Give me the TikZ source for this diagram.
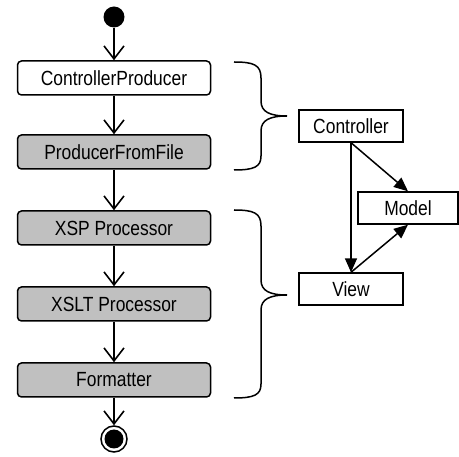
\documentclass[tikz,border=0pt]{standalone}
\usepackage{fontspec}
\setmainfont{Liberation Sans}[FakeStretch=0.85]
\usetikzlibrary{arrows.meta}
\definecolor{stagegray}{RGB}{192,192,192}
\begin{document}
\begin{tikzpicture}[x=1pt,y=-1pt,
  every node/.style={font=\fontsize{20.5}{24}\selectfont, inner sep=0pt},
  stagebox/.style={draw, line width=1.5pt, rounded corners=4pt, minimum width=193pt, minimum height=34pt},
  white stage/.style={stagebox, fill=white},
  gray stage/.style={stagebox, fill=stagegray},
  mvcbox/.style={draw, line width=1.4pt, fill=white, minimum height=32pt},
  flow/.style={line width=1.8pt, -{Straight Barb[length=13pt, width=20pt, line width=1.6pt]}},
  mvc/.style={line width=1.5pt, -{Triangle[length=14pt, width=12pt]}},
  brace/.style={line width=1.5pt}
]
\useasboundingbox (0,0) rectangle (459,457);

% pipeline
\node[circle, fill=black, minimum size=21pt] (start) at (114,17) {};
\node[white stage] (cp)   at (114,78)  {ControllerProducer};
\node[gray stage]  (pff)  at (114,152) {ProducerFromFile};
\node[gray stage]  (xsp)  at (114,228) {XSP Processor};
\node[gray stage]  (xslt) at (114,304) {XSLT Processor};
\node[gray stage]  (fmt)  at (114,380) {Formatter};
\node[circle, draw, line width=1.5pt, fill=white, minimum size=26pt] (end) at (114,439) {};
\fill (end.center) circle (9.5pt);

\draw[flow] (start) -- (cp);
\draw[flow] (cp) -- (pff);
\draw[flow] (pff) -- (xsp);
\draw[flow] (xsp) -- (xslt);
\draw[flow] (xslt) -- (fmt);
\draw[flow] (fmt) -- (end);

% MVC roles
\node[mvcbox, minimum width=104pt] (ctrl)  at (351,126) {Controller};
\node[mvcbox, minimum width=100pt] (model) at (408,208) {Model};
\node[mvcbox, minimum width=104pt] (view)  at (351,289) {View};

\draw[mvc] (ctrl.south) -- (model.north);
\draw[mvc] (ctrl.south) -- (view.north);
\draw[mvc] (view.north) -- (model.south);

% braces grouping the stages
\draw[brace] (234,62) .. controls (254,62) and (261,65) .. (261,78)
  -- (261,101) .. controls (261,112) and (270,116) .. (287,116)
  .. controls (270,116) and (261,120) .. (261,131)
  -- (261,156) .. controls (261,167) and (254,170) .. (234,170);
\draw[brace] (234,210) .. controls (254,210) and (261,213) .. (261,226)
  -- (261,280) .. controls (261,291) and (270,295) .. (287,295)
  .. controls (270,295) and (261,299) .. (261,310)
  -- (261,384) .. controls (261,395) and (254,398) .. (234,398);
\end{tikzpicture}
\end{document}
